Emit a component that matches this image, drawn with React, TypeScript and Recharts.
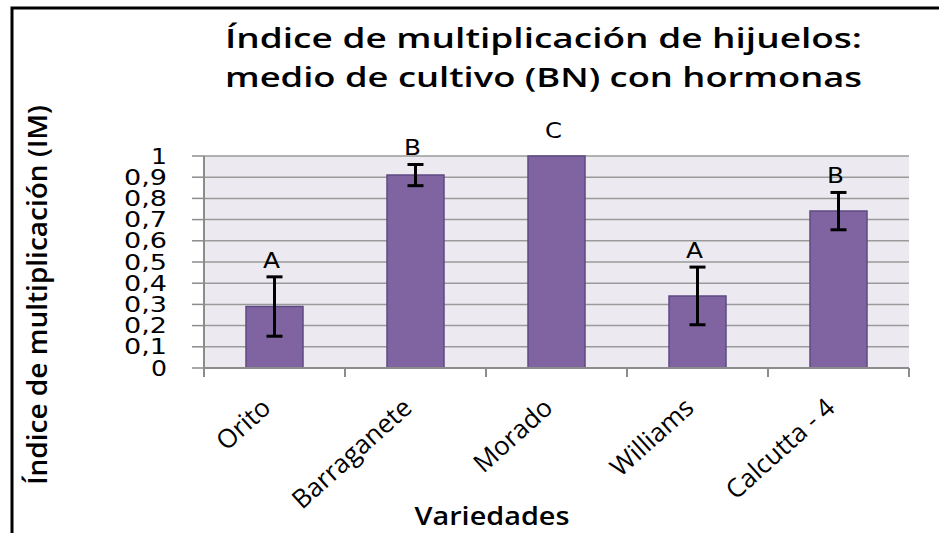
import React from "react";
import {
  BarChart,
  Bar,
  XAxis,
  YAxis,
  CartesianGrid,
  ErrorBar,
  LabelList,
} from "recharts";

const varieties = ["Orito", "Barraganete", "Morado", "Williams", "Calcutta - 4"];
const indexValues = [0.29, 0.91, 1.0, 0.34, 0.74];
const errors = [0.14, 0.05, 0, 0.136, 0.088];
const letters = ["A", "B", "C", "A", "B"];
const yTicks = [0, 0.1, 0.2, 0.3, 0.4, 0.5, 0.6, 0.7, 0.8, 0.9, 1];

const data = varieties.map((name, i) => ({
  name,
  im: indexValues[i],
  err: errors[i],
  letter: letters[i],
}));

const W = 939;
const H = 533;

const fmt = (v: number) => String(Math.round(v * 10) / 10).replace(".", ",");

const YTick = (props: any) => {
  const { x, y, payload } = props;
  const s = fmt(payload.value);
  const len = s.split("").reduce((a, c) => a + (c === "," ? 11 : 16), 0);
  return (
    <text
      x={x}
      y={y}
      dy="0.36em"
      textAnchor="end"
      fontFamily="DejaVu Sans"
      fontSize={21}
      fill="#000"
      textLength={len}
      lengthAdjust="spacingAndGlyphs"
    >
      {s}
    </text>
  );
};

const XTick = (props: any) => {
  const { x, y, payload, index, width, visibleTicksCount } = props;
  const bw = width / visibleTicksCount;
  const left = x - bw / 2;
  const right = x + bw / 2;
  const tx = x - 2;
  const ty = y + 42;
  return (
    <g>
      <line x1={left} y1={y} x2={left} y2={y + 9} stroke="#8c8c8c" strokeWidth={2} />
      {index === visibleTicksCount - 1 && (
        <line x1={right} y1={y} x2={right} y2={y + 9} stroke="#8c8c8c" strokeWidth={2} />
      )}
      <text
        x={tx}
        y={ty}
        textAnchor="end"
        transform={`rotate(-42, ${tx}, ${ty})`}
        fontFamily="Open Sans"
        fontSize={26}
        fill="#000"
      >
        {payload.value}
      </text>
    </g>
  );
};

const LetterLabel = (props: any) => {
  const vb = props.viewBox ?? props;
  const { x, y, width, height } = vb;
  const i = props.index;
  const d = data[i];
  const errPx = d.im ? (height * d.err) / d.im : 0;
  const gap = d.err > 0 ? 9 : 18;
  return (
    <text
      x={x + width / 2 - 3}
      y={y - errPx - gap}
      textAnchor="middle"
      fontFamily="DejaVu Sans"
      fontSize={21}
      fill="#000"
      textLength={17}
      lengthAdjust="spacingAndGlyphs"
    >
      {props.value}
    </text>
  );
};

export default function App() {
  return (
    <div style={{ position: "absolute", left: 0, top: 0, width: W, height: H, background: "#fff" }}>
      <BarChart
        width={W}
        height={H}
        data={data}
        margin={{ top: 156, right: 30, bottom: 0, left: 0 }}
        barSize={57}
      >
        <CartesianGrid
          vertical={false}
          stroke="#9a9a9a"
          strokeWidth={1.5}
          fill="#ECEAF0"
          fillOpacity={1}
        />
        <XAxis
          dataKey="name"
          height={165}
          interval={0}
          tickLine={false}
          tickSize={0}
          tickMargin={0}
          axisLine={{ stroke: "#8c8c8c", strokeWidth: 2 }}
          tick={<XTick />}
        />
        <YAxis
          width={204}
          domain={[0, 1]}
          ticks={yTicks}
          interval={0}
          tickSize={12}
          tickMargin={25}
          tickLine={{ stroke: "#8c8c8c", strokeWidth: 1.5 }}
          axisLine={{ stroke: "#8c8c8c", strokeWidth: 2 }}
          tick={<YTick />}
        />
        <Bar
          dataKey="im"
          fill="#8064A2"
          stroke="#5E4A82"
          strokeWidth={1.5}
          isAnimationActive={false}
        >
          <ErrorBar dataKey="err" width={8} stroke="#000" strokeWidth={3} direction="y" />
          <LabelList dataKey="letter" content={<LetterLabel />} />
        </Bar>
      </BarChart>
      <svg
        width={W}
        height={H}
        style={{ position: "absolute", left: 0, top: 0, pointerEvents: "none" }}
      >
        <polyline points={`12,${H} 12,8 ${W},8`} fill="none" stroke="#000" strokeWidth={3} />
        <text
          x={225}
          y={48}
          fontFamily="Open Sans"
          fontWeight={600}
          fontSize={27}
          textLength={637}
          lengthAdjust="spacingAndGlyphs"
        >
          Índice de multiplicación de hijuelos:
        </text>
        <text
          x={225}
          y={87}
          fontFamily="Open Sans"
          fontWeight={600}
          fontSize={27}
          textLength={637}
          lengthAdjust="spacingAndGlyphs"
        >
          medio de cultivo (BN) con hormonas
        </text>
        <text
          x={0}
          y={0}
          transform="translate(47, 295) rotate(-90)"
          textAnchor="middle"
          fontFamily="Open Sans"
          fontWeight={600}
          fontSize={27}
          textLength={380}
          lengthAdjust="spacingAndGlyphs"
        >
          Índice de multiplicación (IM)
        </text>
        <text
          x={492}
          y={525}
          textAnchor="middle"
          fontFamily="Open Sans"
          fontWeight={600}
          fontSize={26}
          textLength={155}
          lengthAdjust="spacingAndGlyphs"
        >
          Variedades
        </text>
      </svg>
    </div>
  );
}
